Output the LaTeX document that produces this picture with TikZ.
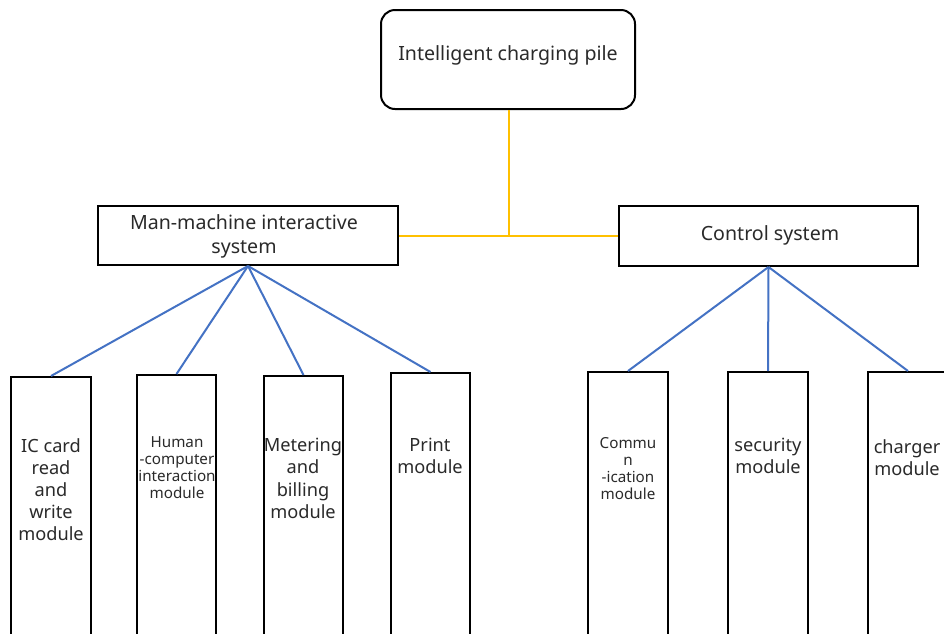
\documentclass[tikz,border=0pt]{standalone}
\usepackage{fontspec}
\setmainfont{Noto Sans}
\definecolor{txt}{HTML}{2A2A2A}
\definecolor{conblue}{HTML}{4472C4}
\definecolor{conyel}{HTML}{FFC000}
\begin{document}
\begin{tikzpicture}[x=1pt,y=-1pt,
  box/.style={draw=black,line width=2pt,fill=white,inner sep=0pt},
  bigtxt/.style={text=txt,font=\fontsize{18.2}{22.2}\selectfont,align=center,inner sep=0pt},
  headtxt/.style={text=txt,font=\fontsize{19.6}{24}\selectfont,align=center,inner sep=0pt},
  smalltxt/.style={text=txt,font=\fontsize{15.2}{17}\selectfont,align=center,inner sep=0pt},
  blueline/.style={draw=conblue,line width=2pt},
  yelline/.style={draw=conyel,line width=2.2pt}]
\useasboundingbox (0,0) rectangle (944,633);
\clip (0,0) rectangle (944,633);
\fill[white] (0,0) rectangle (944,633);
% top
\node[box,rounded corners=14pt,minimum width=254pt,minimum height=99pt] (top) at (508,59.5) {};
\node[headtxt] (toptxt) at (508,55) {Intelligent charging pile};
% second level
\node[box,minimum width=300pt,minimum height=59pt] (hmi) at (248,235.5) {};
\node[headtxt] (hmitxt) at (244,236) {Man-machine interactive\\system};
\node[box,minimum width=299pt,minimum height=60pt] (ctl) at (768.5,236) {};
\node[headtxt] (ctltxt) at (770,235) {Control system};
% yellow connectors
\coordinate (j) at (509,236);
\draw[yelline] (top.south -| j) -- (j);
\draw[yelline] (hmi.east |- j) -- (ctl.west |- j);
% modules
\node[box,minimum width=80pt,minimum height=274pt,anchor=north] (ic) at (51,376) {};
\node[box,minimum width=79pt,minimum height=276pt,anchor=north] (hc) at (176.5,374) {};
\node[box,minimum width=79pt,minimum height=275pt,anchor=north] (mb) at (303.5,375) {};
\node[box,minimum width=79pt,minimum height=278pt,anchor=north] (pm) at (430.5,372) {};
\node[box,minimum width=80pt,minimum height=279pt,anchor=north] (cm) at (628,371) {};
\node[box,minimum width=80pt,minimum height=279pt,anchor=north] (sm) at (768,371) {};
\node[box,minimum width=80pt,minimum height=279pt,anchor=north] (chm) at (908,371) {};
% module texts
\node[bigtxt,anchor=north] (ictxt) at (51,438) {IC card\\read\\and\\write\\module};
\node[smalltxt,anchor=north] (hctxt) at (177,436) {Human\\-computer\\interaction\\module};
\node[bigtxt,anchor=north] (mbtxt) at (303,438) {Metering\\and\\billing\\module};
\node[bigtxt,anchor=north] (pmtxt) at (430,438) {Print\\module};
\node[smalltxt,anchor=north] (cmtxt) at (628,437) {Commu\\n\\-ication\\module};
\node[bigtxt,anchor=north] (smtxt) at (768,438) {security\\module};
\node[bigtxt,anchor=north] (chmtxt) at (907,439) {charger\\module};
% blue connectors
\draw[blueline] (hmi.south) -- (ic.north);
\draw[blueline] (hmi.south) -- (hc.north);
\draw[blueline] (hmi.south) -- (mb.north);
\draw[blueline] (hmi.south) -- (pm.north);
\draw[blueline] (ctl.south) -- (cm.north);
\draw[blueline] (ctl.south) -- (sm.north);
\draw[blueline] (ctl.south) -- (chm.north);
\end{tikzpicture}
\end{document}
